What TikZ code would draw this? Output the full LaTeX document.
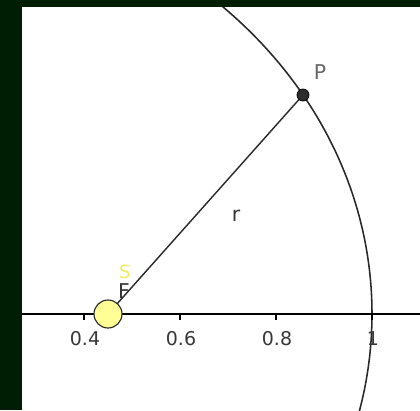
\documentclass[tikz,border=0pt]{standalone}
\usepackage{fontspec}
\setmainfont{DejaVu Sans}
\usepackage{tikz}
\usetikzlibrary{positioning,calc}
\definecolor{cFrame}{RGB}{0,30,4}
\definecolor{cLine}{RGB}{40,40,40}
\definecolor{cText}{RGB}{55,55,55}
\definecolor{cDot}{RGB}{45,45,45}
\definecolor{cSun}{RGB}{255,255,150}
\definecolor{cSunText}{RGB}{238,238,95}
\tikzset{
  curveline/.style={line width=1.1pt,color=cLine},
  axisline/.style={line width=0.9pt,color=black},
  radline/.style={line width=1pt,color=cLine},
  ticklab/.style={font=\fontsize{13.5}{15}\selectfont,text=cText,inner sep=0pt},
  ptlab/.style={font=\fontsize{14.5}{16}\selectfont,text=cText!75,inner sep=0pt},
  sunlab/.style={font=\fontsize{13}{14}\selectfont,text=cSunText,inner sep=0pt},
  sunnode/.style={circle,fill=cSun,draw=cLine,line width=0.8pt,
                  minimum size=0.7cm,inner sep=0pt},
  pointnode/.style={circle,fill=cDot,draw=black,line width=0.5pt,
                  minimum size=0.3cm,inner sep=0pt}
}

\begin{document}
\begin{tikzpicture}[x=0.025cm,y=-0.025cm]
  % frame and plotting area
  \fill[cFrame] (0,0) rectangle (420,410);
  \fill[white] (22,7) rectangle (420,410);
  \useasboundingbox (0,0) rectangle (420,410);

  \begin{scope}
    \clip (22,7) rectangle (420,410);
    \draw[curveline] (-108,314) ellipse [x radius=480,y radius=424];
    \draw[axisline] (22,314) -- (420,314);
  \end{scope}

  \foreach \u/\lab in {0.4/0.4,0.6/0.6,0.8/0.8,1/1}{
    \draw[axisline] ({-108+480*\u},314) -- ({-108+480*\u},320);
    \node[ticklab] (tick\lab) at ({-108+480*\u+1},339) {\lab};
  }

  \coordinate (S) at (108,314);
  \coordinate (P) at (303,95);
  \draw[radline] (S) -- (P);

  \node[sunnode] (sun) at (S) {};
  \node[pointnode] (planet) at (P) {};

  \node[ptlab] (labP) at (320,72) {P};
  \node[ptlab,text=cText] (labr) at (236,216) {r};
  \node[ptlab,text=cText] (labF) at (124,291) {F};
  \node[sunlab] (labS) at (125,272) {S};
\end{tikzpicture}
\end{document}
